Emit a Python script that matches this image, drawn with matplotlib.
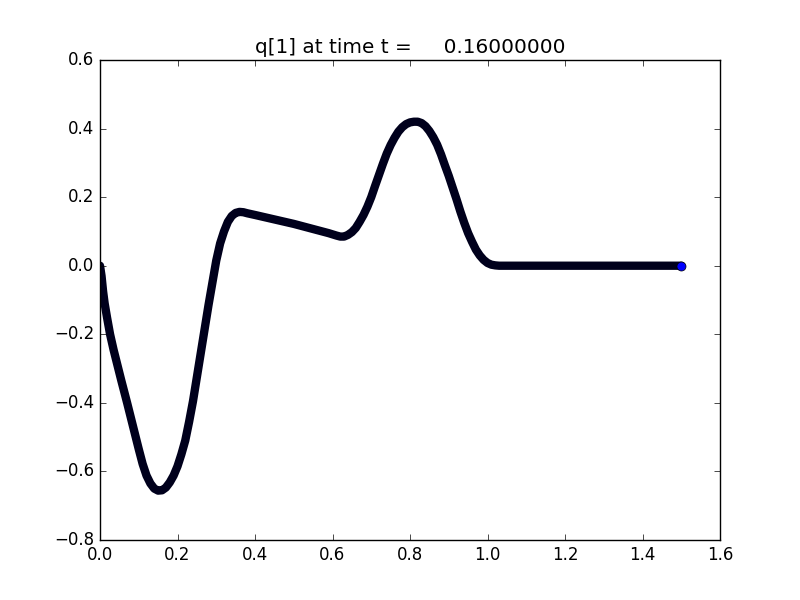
import numpy as np
import matplotlib
matplotlib.use("Agg")
import matplotlib.pyplot as plt

plt.style.use('classic')

# cell centres and q[1] values
xc = [0.0, 0.004, 0.008, 0.012, 0.018, 0.026, 0.035, 0.045, 0.055, 0.07,
      0.08, 0.09, 0.10, 0.11, 0.12, 0.13, 0.14, 0.15, 0.16, 0.17,
      0.18, 0.19, 0.20, 0.21, 0.22, 0.23, 0.24, 0.25, 0.26, 0.27,
      0.28, 0.29, 0.30, 0.31, 0.32, 0.33, 0.34, 0.35, 0.36, 0.37,
      0.38, 0.40, 0.45, 0.50, 0.55, 0.59, 0.61, 0.62, 0.63, 0.64,
      0.65, 0.66, 0.67, 0.68, 0.69, 0.70, 0.71, 0.72, 0.73, 0.74,
      0.75, 0.76, 0.77, 0.78, 0.79, 0.80, 0.81, 0.82, 0.83, 0.84,
      0.85, 0.86, 0.87, 0.88, 0.89, 0.90, 0.91, 0.92, 0.93, 0.94,
      0.95, 0.96, 0.97, 0.98, 0.99, 1.0, 1.01, 1.02, 1.03, 1.1,
      1.2, 1.3, 1.4, 1.5]
q1 = [0.0, -0.03, -0.075, -0.11, -0.15, -0.20, -0.245, -0.29, -0.335, -0.40,
      -0.445, -0.49, -0.535, -0.578, -0.612, -0.635, -0.65, -0.656, -0.655, -0.647,
      -0.632, -0.612, -0.585, -0.55, -0.51, -0.455, -0.395, -0.325, -0.255, -0.185,
      -0.115, -0.05, 0.015, 0.065, 0.10, 0.128, 0.145, 0.154, 0.157, 0.156,
      0.153, 0.148, 0.135, 0.122, 0.107, 0.095, 0.088, 0.085, 0.085, 0.09,
      0.098, 0.11, 0.128, 0.148, 0.172, 0.20, 0.233, 0.265, 0.297, 0.327,
      0.352, 0.373, 0.391, 0.404, 0.413, 0.418, 0.42, 0.42, 0.416, 0.407,
      0.393, 0.375, 0.353, 0.325, 0.293, 0.262, 0.228, 0.194, 0.158, 0.125,
      0.095, 0.07, 0.047, 0.03, 0.017, 0.008, 0.003, 0.001, 0.0, 0.0,
      0.0, 0.0, 0.0, 0.0]
t = 0.16

xc = np.array(xc)
q1 = np.array(q1)

fig = plt.figure(figsize=(8, 6), dpi=100)
ax = fig.add_subplot(111)

# densely overlapping markers show up as a dark navy band
ax.plot(xc, q1, '-', color='#00001c', lw=6.0,
        solid_joinstyle='round', solid_capstyle='round')
ax.plot(xc[-1:], q1[-1:], 'bo', ms=6.5, mec='k', mew=0.5)

ax.set_xlim(0, 1.6)
ax.set_ylim(-0.8, 0.6)
ax.set_title('q[1] at time t = %14.8f' % t)

fig.savefig('out.png', dpi=100, facecolor='w')
